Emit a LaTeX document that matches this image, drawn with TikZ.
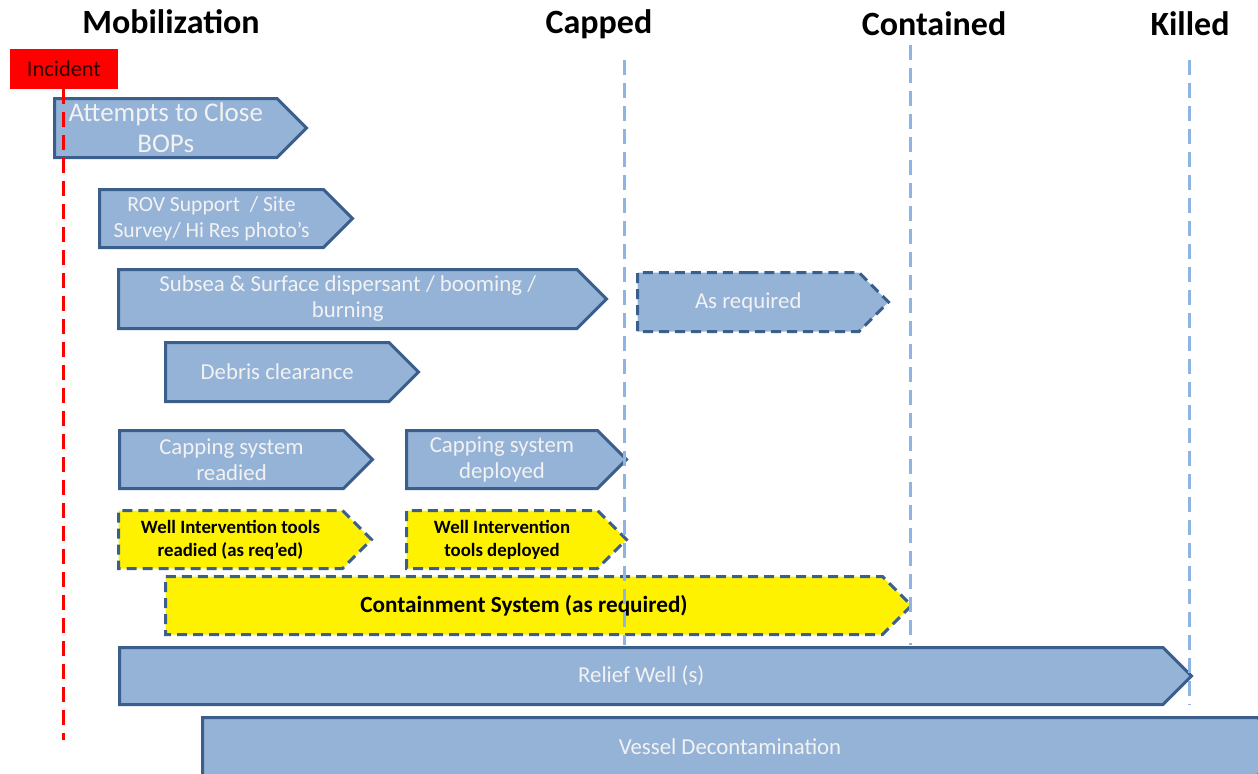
\documentclass[tikz,border=0pt]{standalone}
\usepackage{fontspec}
\setmainfont{Carlito}
\usetikzlibrary{shapes.symbols}
\definecolor{phasefill}{HTML}{95B3D7}
\definecolor{phaseline}{HTML}{3A5F8C}
\definecolor{markline}{HTML}{8DB4E2}
\definecolor{phasetext}{HTML}{F2F2F2}
\begin{document}
\begin{tikzpicture}
    [
      x=0.5pt, y=-0.5pt,
      phase/.style={signal, signal to=east, signal pointer angle=90, anchor=north west,
        draw=phaseline, fill=phasefill, line width=1.5pt, text=phasetext,
        align=center, inner sep=0pt, font=\fontsize{11.4}{13}\selectfont},
      maybe/.style={phase, dash pattern=on 5pt off 3pt},
      tools/.style={maybe, fill=yellow, text=black, font=\fontsize{9.4}{11.5}\selectfont\bfseries},
      milestone/.style={font=\fontsize{17}{19}\selectfont\bfseries},
      marker/.style={draw=markline, line width=1.5pt, dash pattern=on 7.5pt off 4pt},
    ]

    \useasboundingbox (0,0) rectangle (1258,773);

    \node (mobil) [milestone] at (171,22) {Mobilization};
    \node (capped) [milestone] at (599,24) {Capped};
    \node (contained) [milestone] at (934,24) {Contained};
    \node (killed) [milestone] at (1190,24) {Killed};

    \node (incident) [fill=red, minimum width=54pt, minimum height=20pt, inner sep=0pt,
      font=\fontsize{11.2}{13}\selectfont, text=red!20!black] at (64,69) {Incident};

    \node (attempts) [phase, minimum width=126pt, minimum height=29.5pt,
      font=\fontsize{13.5}{15.5}\selectfont] at (53,97) {Attempts to Close\\BOPs};
    \node (rov) [phase, minimum width=126.5pt, minimum height=29pt,
      font=\fontsize{10.8}{13}\selectfont] at (98,188)
      {ROV Support \ / Site\\Survey/ Hi Res photo’s};
    \node (subsea) [phase, minimum width=244pt, minimum height=29.5pt] at (117,268)
      {Subsea \& Surface dispersant / booming /\\burning};
    \node (asreq) [maybe, minimum width=125.5pt, minimum height=29.5pt] at (636,271) {As required};
    \node (debris) [phase, minimum width=126.5pt, minimum height=29.5pt] at (164,341) {Debris clearance};
    \node (cap-ready) [phase, minimum width=126.5pt, minimum height=29pt] at (118,429)
      {Capping system\\readied};
    \node (cap-deploy) [phase, minimum width=110pt, minimum height=29pt] at (405,429)
      {Capping system\\deployed};
    \node (well-ready) [tools, minimum width=126.5pt, minimum height=29pt] at (117,509)
      {Well Intervention tools\\readied (as req’ed)};
    \node (well-deploy) [tools, minimum width=110pt, minimum height=29pt] at (405,509)
      {Well Intervention\\tools deployed};
    \node (contain) [tools, minimum width=373pt, minimum height=29pt,
      font=\fontsize{11.6}{13}\selectfont\bfseries] at (164,575) {Containment System (as required)};
    \node (relief) [phase, minimum width=536pt, minimum height=28.5pt] at (118,646) {Relief Well (s)};
    \node (vessel) [phase, minimum width=542pt, minimum height=29pt] at (201,716) {Vessel Decontamination};

    \coordinate (capped-top) at (624,60);
    \coordinate (capped-end) at (624,645);
    \coordinate (contained-top) at (910,45);
    \coordinate (contained-end) at (910,645);
    \coordinate (killed-top) at (1189,60);
    \coordinate (killed-end) at (1189,705);
    \coordinate (incident-end) at (63,740);

    \draw [marker] (capped-top) -- (capped-end);
    \draw [marker] (contained-top) -- (contained-end);
    \draw [marker] (killed-top) -- (killed-end);
    \draw [red, line width=1.5pt, dash pattern=on 7.5pt off 4pt] (incident.south -| incident-end) -- (incident-end);

\end{tikzpicture}
\end{document}
